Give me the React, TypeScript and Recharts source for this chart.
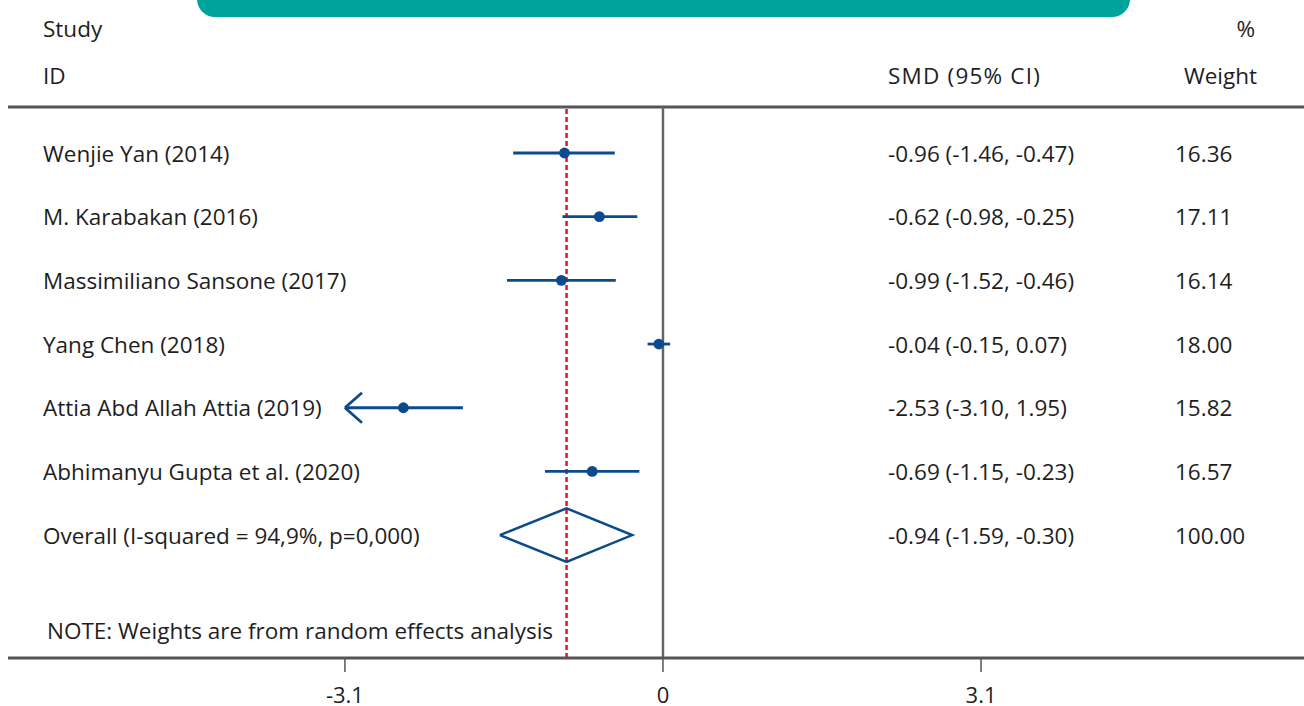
import React from 'react';
import { ComposedChart, Scatter, XAxis, YAxis, ReferenceLine } from 'recharts';

// ---------- data ----------
const studies = [
  'Wenjie Yan (2014)',
  'M. Karabakan (2016)',
  'Massimiliano Sansone (2017)',
  'Yang Chen (2018)',
  'Attia Abd Allah Attia (2019)',
  'Abhimanyu Gupta et al. (2020)',
];
const smd = [-0.96, -0.62, -0.99, -0.04, -2.53, -0.69];
const ciLow = [-1.46, -0.98, -1.52, -0.15, -3.1, -1.15];
const ciHigh = [-0.47, -0.25, -0.46, 0.07, -1.95, -0.23];
const ciText = [
  '-0.96 (-1.46, -0.47)',
  '-0.62 (-0.98, -0.25)',
  '-0.99 (-1.52, -0.46)',
  '-0.04 (-0.15, 0.07)',
  '-2.53 (-3.10, 1.95)',
  '-0.69 (-1.15, -0.23)',
];
const weights = ['16.36', '17.11', '16.14', '18.00', '15.82', '16.57'];

const overallLabel = 'Overall (I-squared = 94,9%, p=0,000)';
const overallEst = -0.94;
const overallLow = -1.59;
const overallHigh = -0.3;
const overallText = '-0.94 (-1.59, -0.30)';
const overallWeight = '100.00';

const noteText = 'NOTE: Weights are from random effects analysis';
const xTicks = [-3.1, 0, 3.1];
const axisLimit = -3.1;

// ---------- layout / style ----------
const X0 = -6.384;
const X1 = 6.248;
const Y0 = -0.7225;
const Y1 = 7.93;
const BLUE = '#0b4a8b';
const TEXT = '#1e1e1e';
const FONT = '"Open Sans", "Noto Sans", sans-serif';
const FS = 22.5;
const DIAMOND_H = 0.42;
const ARROW_DX = 0.166;
const ARROW_DY = 0.236;
const NOTE_ROW = 7.5;

const overallRow = studies.length;

const rowData = studies.map((s, i) => ({
  x: smd[i],
  y: i,
  label: s,
  ci: ciText[i],
  w: weights[i],
}));
rowData.push({ x: overallEst, y: overallRow, label: overallLabel, ci: overallText, w: overallWeight });

const dotData = studies.map((s, i) => ({ x: smd[i], y: i }));

const diamondData = [
  { x: overallLow, y: overallRow },
  { x: overallEst, y: overallRow - DIAMOND_H },
  { x: overallHigh, y: overallRow },
  { x: overallEst, y: overallRow + DIAMOND_H },
  { x: overallLow, y: overallRow },
];

const noteData = [{ x: 0, y: NOTE_ROW }];

const RowText = (p: any) => {
  const { cy, payload } = p;
  const common = { fontSize: FS, fill: TEXT, fontFamily: FONT, dominantBaseline: 'central' as const };
  return (
    <g>
      <text x={43} y={cy} {...common}>{payload.label}</text>
      <text x={888} y={cy} {...common}>{payload.ci}</text>
      <text x={1175} y={cy} {...common}>{payload.w}</text>
    </g>
  );
};

const NoteText = (p: any) => (
  <text x={47} y={p.cy} fontSize={FS} fill={TEXT} fontFamily={FONT} dominantBaseline="central">
    {noteText}
  </text>
);

const Dot = (p: any) => <circle cx={p.cx} cy={p.cy} r={5.4} fill={BLUE} />;
const Empty = () => <g />;

const headStyle = (extra: React.CSSProperties): React.CSSProperties => ({
  position: 'absolute',
  transform: 'translateY(-50%)',
  fontSize: FS,
  color: TEXT,
  fontFamily: FONT,
  whiteSpace: 'nowrap',
  lineHeight: 1,
  ...extra,
});

export default function App() {
  return (
    <div style={{ position: 'absolute', left: 0, top: 0, width: 1304, height: 706, background: '#fff', overflow: 'hidden' }}>
      <div
        style={{
          position: 'absolute',
          left: 197,
          top: -20,
          width: 933,
          height: 37,
          background: '#00a39b',
          borderRadius: '0 0 18px 18px',
        }}
      />
      <div style={headStyle({ left: 43, top: 29 })}>Study</div>
      <div style={headStyle({ left: 43, top: 76 })}>ID</div>
      <div style={headStyle({ left: 888, top: 76, letterSpacing: 1.2 })}>SMD (95% CI)</div>
      <div style={headStyle({ right: 1304 - 1255, top: 29 })}>%</div>
      <div style={headStyle({ right: 1304 - 1257, top: 76 })}>Weight</div>
      <ComposedChart width={1304} height={706} margin={{ top: 107, right: 0, bottom: 0, left: 8 }}>
        <XAxis
          type="number"
          dataKey="x"
          domain={[X0, X1]}
          allowDataOverflow
          ticks={xTicks}
          interval={0}
          height={48}
          tickSize={14}
          tickMargin={15}
          axisLine={{ stroke: '#555', strokeWidth: 3 }}
          tickLine={{ stroke: '#555', strokeWidth: 1.5 }}
          tick={{ fill: TEXT, fontSize: 22, fontFamily: FONT }}
        />
        <YAxis type="number" dataKey="y" domain={[Y0, Y1]} allowDataOverflow reversed hide />
        <ReferenceLine y={Y0} stroke="#555" strokeWidth={3} ifOverflow="visible" />
        <ReferenceLine x={0} stroke="#666" strokeWidth={2.5} />
        <ReferenceLine x={overallEst} stroke="#e8141f" strokeWidth={2.5} strokeDasharray="5 3" />
        {studies.map((s, i) => (
          <ReferenceLine
            key={'ci' + i}
            segment={[{ x: ciLow[i], y: i }, { x: ciHigh[i], y: i }]}
            stroke={BLUE}
            strokeWidth={2.8}
            ifOverflow="visible"
          />
        ))}
        {studies.map((s, i) =>
          ciLow[i] <= axisLimit ? (
            <ReferenceLine
              key={'aw1' + i}
              segment={[{ x: ciLow[i], y: i }, { x: ciLow[i] + ARROW_DX, y: i - ARROW_DY }]}
              stroke={BLUE}
              strokeWidth={2.8}
              ifOverflow="visible"
            />
          ) : null
        )}
        {studies.map((s, i) =>
          ciLow[i] <= axisLimit ? (
            <ReferenceLine
              key={'aw2' + i}
              segment={[{ x: ciLow[i], y: i }, { x: ciLow[i] + ARROW_DX, y: i + ARROW_DY }]}
              stroke={BLUE}
              strokeWidth={2.8}
              ifOverflow="visible"
            />
          ) : null
        )}
        <Scatter
          data={diamondData}
          line={{ stroke: BLUE, strokeWidth: 2.5 }}
          lineType="joint"
          shape={Empty}
          isAnimationActive={false}
        />
        <Scatter data={dotData} shape={Dot} isAnimationActive={false} />
        <Scatter data={rowData} shape={RowText} isAnimationActive={false} />
        <Scatter data={noteData} shape={NoteText} isAnimationActive={false} />
      </ComposedChart>
    </div>
  );
}
